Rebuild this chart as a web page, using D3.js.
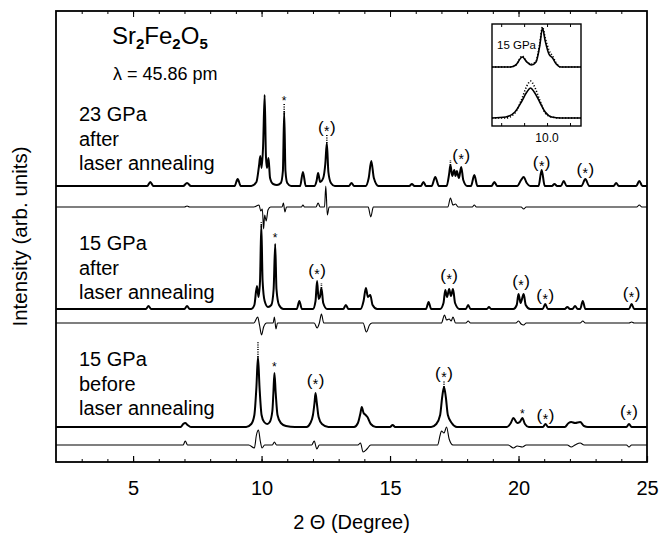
<!DOCTYPE html>
<html>
<head>
<meta charset="utf-8">
<script src="https://cdn.jsdelivr.net/npm/d3@7"></script>
<style>
  body { margin: 0; background: #fff; }
  svg { display: block; font-family: "Liberation Sans", Arial, sans-serif; }
</style>
</head>
<body>
<div id="chart"></div>
<script>
// 2-theta (deg), intensity above each pattern's own baseline (arb. units)
const pattern23after = [
  [2,0],[5.55,0],[5.67,4],[5.79,0],[6.95,0],[7.1,3],[7.25,0],[8.95,0],[9.07,7],[9.19,0],
  [9.6,0],[9.8,4],[9.9,20],[9.95,30],[10.0,18],[10.06,40],[10.12,91],[10.17,30],[10.21,18],[10.27,28],[10.33,8],[10.45,2],[10.6,1],
  [10.75,3],[10.83,15],[10.88,74],[10.93,15],[11.0,3],[11.15,0],
  [11.5,0],[11.61,14],[11.72,0],
  [12.05,0],[12.14,5],[12.2,13],[12.28,4],[12.4,8],[12.48,22],[12.54,43],[12.6,14],[12.7,3],[12.85,0],
  [13.4,0],[13.5,3],[13.6,0],
  [14.05,0],[14.17,8],[14.27,25],[14.37,8],[14.55,0],
  [15.75,0],[15.85,2],[15.95,0],[16.2,0],[16.3,4],[16.4,0],
  [16.62,0],[16.76,9],[16.9,0],
  [17.2,0],[17.3,12],[17.35,21],[17.42,10],[17.5,16],[17.55,10],[17.6,15],[17.68,8],[17.77,19],[17.85,6],[18.0,0],
  [18.15,0],[18.28,11],[18.4,0],
  [18.95,0],[19.06,4],[19.17,0],
  [19.95,0],[20.1,6],[20.2,9],[20.32,3],[20.45,0],
  [20.78,0],[20.9,16],[21.02,0],
  [21.3,0],[21.4,2],[21.5,0],[21.65,0],[21.76,5],[21.87,0],
  [22.45,0],[22.6,7],[22.75,0],
  [23.7,0],[23.8,3],[23.9,0],
  [24.58,0],[24.7,5],[24.82,0],[25,0]
];
const diff23after = [
  [2,0],[7.0,0],[7.1,1],[7.2,0],
  [9.7,0],[9.9,2],[9.97,-4],[10.03,-2],[10.08,-22],[10.12,-8],[10.18,-14],[10.25,-3],[10.35,0],
  [10.8,0],[10.85,4],[10.91,-5],[10.97,0],
  [11.55,0],[11.61,2],[11.67,0],
  [12.12,0],[12.2,4],[12.28,0],[12.45,0],[12.5,21],[12.56,-8],[12.63,0],
  [14.15,0],[14.25,-10],[14.35,0],
  [17.25,0],[17.35,9],[17.45,2],[17.55,3],[17.65,0],
  [18.2,0],[18.28,2],[18.36,0],
  [20.1,0],[20.2,-2],[20.3,0],
  [24.6,0],[24.7,2],[24.8,0],[25,0]
];
const pattern15after = [
  [2,0],[5.5,0],[5.6,3],[5.7,0],[7.0,0],[7.1,3],[7.2,0],
  [9.6,0],[9.72,4],[9.82,23],[9.88,12],[9.94,28],[9.99,84],[10.04,28],[10.12,8],[10.25,2],[10.38,4],[10.47,20],[10.53,65],[10.58,20],[10.68,4],[10.85,0],
  [11.37,0],[11.47,8],[11.57,0],
  [12.0,0],[12.1,8],[12.16,28],[12.22,10],[12.27,12],[12.33,21],[12.4,6],[12.55,0],
  [13.18,0],[13.28,4],[13.38,0],
  [13.85,0],[13.97,8],[14.06,21],[14.14,12],[14.23,14],[14.32,4],[14.5,0],
  [16.4,0],[16.5,7],[16.6,0],
  [16.95,0],[17.08,6],[17.15,19],[17.22,12],[17.3,20],[17.37,13],[17.45,20],[17.53,6],[17.7,0],
  [17.95,0],[18.04,4],[18.13,0],
  [18.77,0],[18.85,2],[18.93,0],
  [19.8,0],[19.93,4],[20.0,15],[20.08,6],[20.2,15],[20.28,4],[20.45,0],
  [20.94,0],[21.04,5],[21.14,0],
  [21.8,0],[21.9,2],[22.0,0],[22.1,0],[22.2,3],[22.3,0],[22.4,0],[22.5,8],[22.6,0],
  [24.3,0],[24.4,5],[24.5,0],[25,0]
];
const diff15after = [
  [2,0],[9.7,0],[9.85,6],[9.92,-2],[10.0,-12],[10.08,-4],[10.2,0],
  [10.45,0],[10.5,6],[10.56,-6],[10.62,0],
  [12.05,0],[12.16,-5],[12.25,0],[12.33,9],[12.42,0],
  [13.95,0],[14.08,-9],[14.2,-2],[14.3,0],
  [17.0,0],[17.12,8],[17.2,3],[17.3,4],[17.38,2],[17.45,6],[17.55,0],
  [17.95,0],[18.04,2],[18.13,0],
  [19.9,0],[20.0,2],[20.1,-1],[20.2,-2],[20.3,0],
  [22.4,0],[22.5,2],[22.6,0],
  [24.3,0],[24.4,1],[24.5,0],[25,0]
];
const pattern15before = [
  [2,0],[6.85,0],[6.95,3],[7.03,4],[7.12,2],[7.25,0],
  [9.4,0],[9.6,3],[9.72,12],[9.8,40],[9.86,70],[9.92,40],[10.0,12],[10.1,5],[10.22,3],[10.32,5],[10.42,16],[10.46,34],[10.5,54],[10.55,34],[10.62,12],[10.75,4],[10.95,1],[11.3,0],
  [11.75,0],[11.9,4],[12.0,12],[12.06,24],[12.1,34],[12.15,24],[12.22,10],[12.35,3],[12.6,0],
  [13.6,0],[13.75,4],[13.85,14],[13.9,20],[13.97,14],[14.05,12],[14.12,10],[14.25,3],[14.45,0],
  [15.0,0],[15.1,2],[15.2,0],
  [16.6,0],[16.8,3],[16.95,12],[17.03,30],[17.1,40],[17.17,30],[17.25,12],[17.4,4],[17.6,0],
  [19.55,0],[19.7,4],[19.8,9],[19.95,4],[20.05,5],[20.15,9],[20.25,3],[20.4,0],
  [20.95,0],[21.05,3],[21.15,0],
  [21.8,0],[21.95,4],[22.05,5],[22.2,4],[22.4,5],[22.55,1],[22.7,0],
  [24.2,0],[24.3,3],[24.4,0],[25,0]
];
const diff15before = [
  [2,0],[6.95,0],[7.03,4],[7.12,0],
  [9.5,0],[9.72,-3],[9.8,10],[9.88,15],[9.95,4],[10.02,-3],[10.12,0],
  [10.42,0],[10.5,3],[10.58,0],
  [11.95,0],[12.05,4],[12.15,-4],[12.25,0],
  [13.75,0],[13.85,2],[13.95,-7],[14.1,-4],[14.25,0],
  [16.85,0],[16.95,10],[17.0,14],[17.1,12],[17.2,18],[17.3,6],[17.45,0],
  [19.6,0],[19.8,-3],[19.95,-1],[20.15,-2],[20.3,0],
  [21.9,0],[22.05,-2],[22.2,0],[22.4,2],[22.55,0],
  [24.2,0],[24.3,-2],[24.4,0],[25,0]
];

const patternOffsets = [276, 153, 35];
const diffOffsets = [255, 139, 17];

// observed points standing above the fit: [pattern, 2theta, fit top, observed top]
const obsExcess = [
  [0, 10.88, 74, 83], [0, 12.54, 43, 51], [0, 17.35, 21, 26],
  [1, 12.33, 21, 26], [1, 9.99, 84, 87],
  [2, 9.86, 70, 86], [2, 17.1, 40, 46]
];

// reflection marks: [2theta, level, label]
const marks = [
  [10.88, 366, "*"], [12.54, 335, "(*)"], [17.77, 307, "(*)"], [20.9, 300, "(*)"], [22.6, 293, "(*)"],
  [10.53, 229, "*"], [12.16, 192, "(*)"], [17.3, 187, "(*)"], [20.1, 181, "(*)"], [21.04, 167, "(*)"], [24.4, 169, "(*)"],
  [10.5, 100, "*"], [12.1, 82, "(*)"], [17.1, 89, "(*)"], [20.15, 53, "*"], [21.05, 47, "(*)"], [24.3, 51, "(*)"]
];

const sampleLabels = [
  ["23 GPa", "after", "laser annealing"],
  ["15 GPa", "after", "laser annealing"],
  ["15 GPa", "before", "laser annealing"]
];
const labelTops = [121, 250, 366];

// inset: zoom around 10 deg
const insetUpper = [
  [9.4,59],[9.6,59],[9.66,61],[9.73,69],[9.78,64],[9.83,61],[9.88,64],[9.92,80],[9.95,98],[9.98,85],[10.02,72],[10.06,68],[10.1,62],[10.15,59],[10.37,59]
];
const insetUpperObs = [
  [9.4,59],[9.6,59],[9.66,61],[9.73,70],[9.78,64],[9.83,62],[9.88,65],[9.92,82],[9.95,99],[9.98,88],[10.02,76],[10.06,70],[10.1,63],[10.15,59],[10.37,59]
];
const insetLower = [
  [9.4,8],[9.55,9],[9.65,14],[9.72,24],[9.78,34],[9.82,38],[9.86,34],[9.92,24],[9.98,14],[10.05,9],[10.15,8],[10.37,8]
];
const insetLowerObs = [
  [9.4,8],[9.55,8],[9.65,13],[9.72,26],[9.78,40],[9.82,45],[9.86,40],[9.92,26],[9.98,13],[10.05,9],[10.15,8],[10.37,8]
];
const insetTicks = [9.5, 9.75, 10.0, 10.25];

const width = 662, height = 544;
const margin = { top: 11, right: 15, bottom: 82, left: 56 };

const svg = d3.select("#chart").append("svg")
  .attr("width", width)
  .attr("height", height);

const x = d3.scaleLinear().domain([2, 25]).range([margin.left, width - margin.right]);
const y = d3.scaleLinear().domain([0, 451]).range([height - margin.bottom, margin.top]);

const line = (off) => d3.line()
  .x((d) => x(d[0]))
  .y((d) => y(off + d[1]))
  .curve(d3.curveMonotoneX);

const patterns = [pattern23after, pattern15after, pattern15before];
const diffs = [diff23after, diff15after, diff15before];

patterns.forEach((p, i) => {
  svg.append("path")
    .datum(p)
    .attr("d", line(patternOffsets[i]))
    .attr("fill", "none")
    .attr("stroke", "#000")
    .attr("stroke-width", 2)
    .attr("stroke-linejoin", "round");
});

diffs.forEach((p, i) => {
  svg.append("path")
    .datum(p)
    .attr("d", line(diffOffsets[i]))
    .attr("fill", "none")
    .attr("stroke", "#000")
    .attr("stroke-width", 1.1);
});

svg.selectAll("line.obs")
  .data(obsExcess)
  .enter()
  .append("line")
  .attr("class", "obs")
  .attr("x1", (d) => x(d[1]))
  .attr("x2", (d) => x(d[1]))
  .attr("y1", (d) => y(patternOffsets[d[0]] + d[2]))
  .attr("y2", (d) => y(patternOffsets[d[0]] + d[3]))
  .attr("stroke", "#000")
  .attr("stroke-width", 1.6)
  .attr("stroke-dasharray", "1,1.3");

// reflection marks
const markText = svg.selectAll("text.mark")
  .data(marks)
  .enter()
  .append("text")
  .attr("class", "mark")
  .attr("x", (d) => x(d[0]))
  .attr("y", (d) => y(d[1]))
  .attr("text-anchor", "middle")
  .attr("font-size", (d) => (d[2] === "*" ? 12 : 17))
  .attr("dy", (d) => (d[2] === "*" ? "0.75em" : "0.35em"));
markText.filter((d) => d[2] === "*").text("*");
const paren = markText.filter((d) => d[2] !== "*");
paren.append("tspan").text("(");
paren.append("tspan").attr("font-size", 14).attr("dx", 0.5).attr("dy", 3).text("*");
paren.append("tspan").attr("dx", 0.5).attr("dy", -3).text(")");

// frame
svg.append("rect")
  .attr("x", x(2))
  .attr("y", y(451))
  .attr("width", x(25) - x(2))
  .attr("height", y(0) - y(451))
  .attr("fill", "none")
  .attr("stroke", "#000")
  .attr("stroke-width", 1.8);

const axisB = svg.append("g")
  .attr("transform", `translate(0,${y(0)})`)
  .call(d3.axisBottom(x).tickValues([5, 10, 15, 20, 25]).tickSizeInner(-6).tickSizeOuter(0).tickPadding(19));
axisB.select(".domain").remove();
axisB.selectAll("text").attr("font-size", 20).attr("font-family", "Liberation Sans, Arial, sans-serif").attr("fill", "#000");
axisB.selectAll("line").attr("stroke-width", 1.2);

const minorTicks = d3.range(3, 25);
svg.append("g")
  .attr("transform", `translate(0,${y(0)})`)
  .call(d3.axisBottom(x).tickValues(minorTicks).tickSize(-3).tickFormat(""))
  .call((g) => g.select(".domain").remove());

svg.append("g")
  .attr("transform", `translate(0,${y(451)})`)
  .call(d3.axisTop(x).tickValues([5, 10, 15, 20]).tickSize(-6).tickFormat(""))
  .call((g) => g.select(".domain").remove());
svg.append("g")
  .attr("transform", `translate(0,${y(451)})`)
  .call(d3.axisTop(x).tickValues(minorTicks).tickSize(-3).tickFormat(""))
  .call((g) => g.select(".domain").remove());

// axis titles
svg.append("text")
  .attr("x", (x(2) + x(25)) / 2)
  .attr("y", 529)
  .attr("text-anchor", "middle")
  .attr("font-size", 20)
  .text("2 \u0398 (Degree)");

svg.append("text")
  .attr("transform", `translate(27,${(y(0) + y(451)) / 2}) rotate(-90)`)
  .attr("text-anchor", "middle")
  .attr("font-size", 20.5)
  .text("Intensity (arb. units)");

// compound and wavelength
const formula = svg.append("text").attr("x", 112).attr("y", 44).attr("font-size", 24);
formula.append("tspan").text("Sr");
formula.append("tspan").attr("font-size", 15).attr("font-weight", "bold").attr("dy", 5).text("2");
formula.append("tspan").attr("dy", -5).text("Fe");
formula.append("tspan").attr("font-size", 15).attr("font-weight", "bold").attr("dy", 5).text("2");
formula.append("tspan").attr("dy", -5).text("O");
formula.append("tspan").attr("font-size", 15).attr("font-weight", "bold").attr("dy", 5).text("5");

svg.append("text")
  .attr("x", 113)
  .attr("y", 80)
  .attr("font-size", 18)
  .text("\u03bb = 45.86 pm");

// sample labels
sampleLabels.forEach((lines, i) => {
  const t = svg.append("text").attr("font-size", 20);
  lines.forEach((s, j) => {
    t.append("tspan")
      .attr("x", 79)
      .attr("y", labelTops[i] + j * 24.5)
      .text(s);
  });
});

// inset
const ix = d3.scaleLinear().domain([9.4, 10.37]).range([492, 581]);
const iy = d3.scaleLinear().domain([0, 102]).range([126, 24]);
const inset = svg.append("g");
inset.append("rect")
  .attr("x", ix(9.4))
  .attr("y", iy(102))
  .attr("width", ix(10.37) - ix(9.4))
  .attr("height", iy(0) - iy(102))
  .attr("fill", "#fff")
  .attr("stroke", "#000")
  .attr("stroke-width", 1.4);

const iline = d3.line().x((d) => ix(d[0])).y((d) => iy(d[1])).curve(d3.curveMonotoneX);
[insetUpper, insetLower].forEach((p) => {
  inset.append("path").datum(p).attr("d", iline)
    .attr("fill", "none").attr("stroke", "#000").attr("stroke-width", 1.6);
});
[insetUpperObs, insetLowerObs].forEach((p) => {
  inset.append("path").datum(p).attr("d", iline)
    .attr("fill", "none").attr("stroke", "#000").attr("stroke-width", 1.6)
    .attr("stroke-dasharray", "1.2,1.8");
});

inset.append("g")
  .attr("transform", `translate(0,${iy(0)})`)
  .call(d3.axisBottom(ix).tickValues(insetTicks).tickSize(-3).tickFormat(""))
  .call((g) => g.select(".domain").remove());
inset.append("g")
  .attr("transform", `translate(0,${iy(102)})`)
  .call(d3.axisTop(ix).tickValues(insetTicks).tickSize(-3).tickFormat(""))
  .call((g) => g.select(".domain").remove());

inset.append("text")
  .attr("x", ix(10.0))
  .attr("y", 142)
  .attr("text-anchor", "middle")
  .attr("font-size", 12)
  .text("10.0");
inset.append("text")
  .attr("x", 497)
  .attr("y", 49)
  .attr("font-size", 11.5)
  .text("15 GPa");
</script>
</body>
</html>
